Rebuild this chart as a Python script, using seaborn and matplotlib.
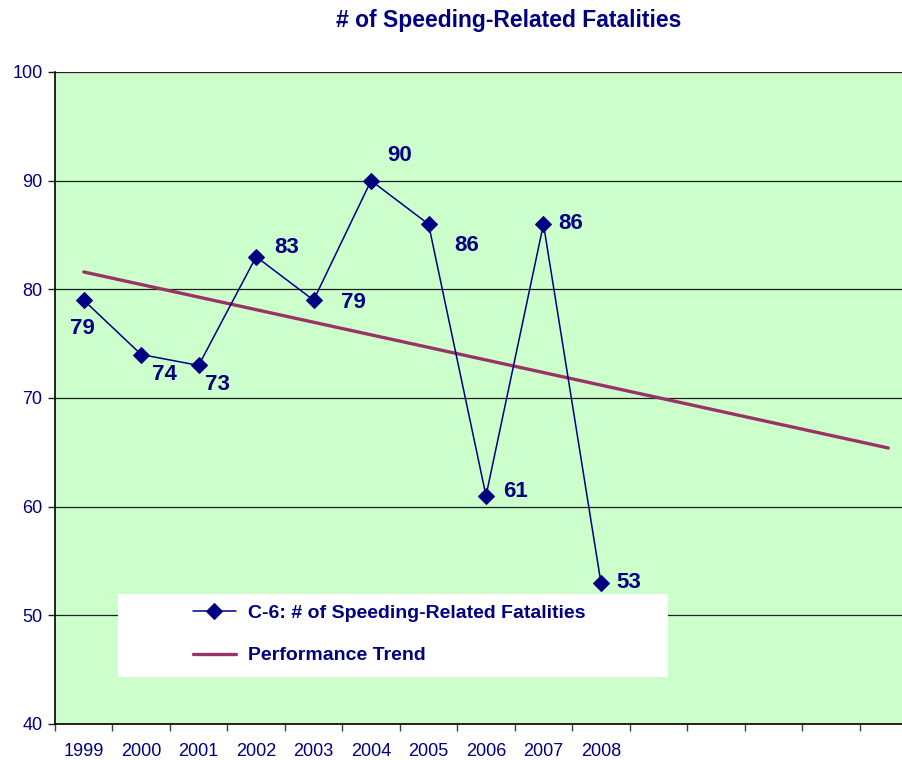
import numpy as np
import pandas as pd
import matplotlib
matplotlib.use("Agg")
import matplotlib.pyplot as plt
from matplotlib.patches import Rectangle
import seaborn as sns

years = ['1999', '2000', '2001', '2002', '2003', '2004', '2005', '2006', '2007', '2008']
fatalities = [79, 74, 73, 83, 79, 90, 86, 61, 86, 53]
n_slots = 15  # axis has room for 15 categories, only 10 labelled
trend_pos = [0, 14]
trend_vals = [81.6, 65.4]

# label offsets in pixels (style only)
lbl_off = [(-1, -28), (23, -20), (19, -19), (30, 9), (40, -2),
           (29, 25), (38, -21), (29, 4), (27, 1), (28, 0)]

NAVY = '#000080'
TREND = '#993366'

sns.set_style("white")
plt.rcParams['font.family'] = ['Liberation Sans', 'DejaVu Sans']

fig = plt.figure(figsize=(9.03, 7.6), dpi=100)
ax = fig.add_axes([55/903, 1-724/760, 862/903, 652/760])
ax.set_facecolor('#CCFFCC')

df = pd.DataFrame({'pos': np.arange(len(years)), 'val': fatalities,
                   'series': 'C-6: # of Speeding-Related Fatalities'})
tr = pd.DataFrame({'pos': trend_pos, 'val': trend_vals, 'series': 'Performance Trend'})

sns.lineplot(data=tr, x='pos', y='val', ax=ax, color=TREND, linewidth=2.4,
             label='Performance Trend', zorder=3)
sns.lineplot(data=df, x='pos', y='val', ax=ax, color=NAVY, linewidth=1.1,
             marker='D', markersize=8, markeredgecolor=NAVY,
             label='C-6: # of Speeding-Related Fatalities', zorder=4)

for i, v in enumerate(fatalities):
    ax.annotate(str(v), (i, v), xytext=lbl_off[i], textcoords='offset pixels',
                ha='center', va='center', fontsize=16, fontweight='bold', color=NAVY)

ax.set_xlim(-0.5, n_slots - 0.5)
ax.set_ylim(40, 100)
ax.set_yticks(range(40, 101, 10))
ax.yaxis.grid(True, color='#202020', linewidth=0.9)
ax.set_axisbelow(True)

ax.set_xticks(np.arange(-0.5, n_slots, 1))
ax.set_xticklabels([])
ax.set_xticks(np.arange(len(years)), minor=True)
ax.set_xticklabels(years, minor=True)
ax.tick_params(axis='x', which='major', direction='out', length=5, width=1, color='#404040', bottom=True)
ax.tick_params(axis='x', which='minor', length=0, pad=14, labelsize=13, labelcolor=NAVY)
ax.tick_params(axis='y', direction='out', length=5, width=1, color='#202020', left=True,
               labelsize=13, labelcolor=NAVY, pad=4)
ax.set_xlabel('')
ax.set_ylabel('')
for s in ['top', 'right']:
    ax.spines[s].set_visible(False)
for s in ['left', 'bottom']:
    ax.spines[s].set_color('black')
    ax.spines[s].set_linewidth(1.2)

# white legend box
box = Rectangle(((118-55)/862, (724-677)/652), 550/862, 83/652, transform=ax.transAxes,
                facecolor='white', edgecolor='none', zorder=5)
ax.add_patch(box)
h, l = ax.get_legend_handles_labels()
leg = ax.legend(h[::-1], l[::-1], loc='upper left', bbox_to_anchor=((193-55)/862, (724-604)/652),
                frameon=False, borderpad=0, borderaxespad=0, handlelength=2.2,
                handletextpad=0.62, labelspacing=1.3, prop={'weight': 'bold', 'size': 14})
leg.set_zorder(6)
for t in leg.get_texts():
    t.set_color(NAVY)

fig.text(509/903, 1-21/760, '# of Speeding-Related Fatalities', ha='center', va='center',
         fontsize=16.5, fontweight='bold', color=NAVY)

fig.savefig('out.png', dpi=100)
